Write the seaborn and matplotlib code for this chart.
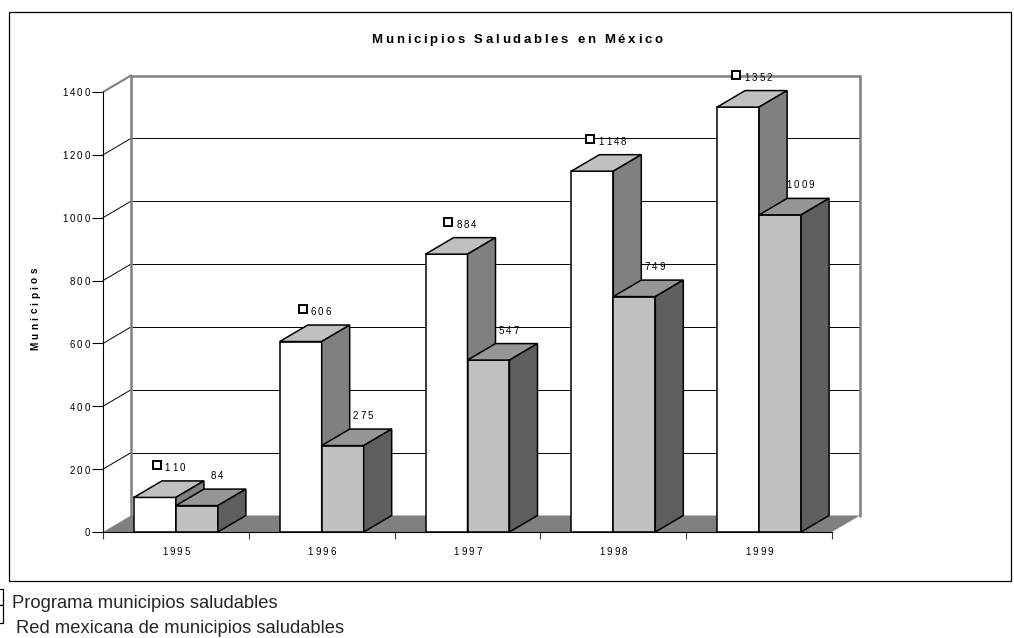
import numpy as np
import pandas as pd
import matplotlib
matplotlib.use("Agg")
import matplotlib.pyplot as plt
import seaborn as sns
from matplotlib.patches import Polygon, Rectangle
from matplotlib.font_manager import FontProperties, findfont
from matplotlib.ft2font import FT2Font
from matplotlib.transforms import offset_copy

# ---- data -------------------------------------------------------------
years = ["1995", "1996", "1997", "1998", "1999"]
programa = [110, 606, 884, 1148, 1352]
red = [84, 275, 547, 749, 1009]
series_names = ["Programa municipios saludables",
                "Red mexicana de municipios saludables"]
y_ticks = [0, 200, 400, 600, 800, 1000, 1200, 1400]
title = "Municipios Saludables en México"
y_label = "Municipios"

# ---- figure -----------------------------------------------------------
W, H, DPI = 1014, 638, 100
sns.set_style("white")
plt.rcParams["font.family"] = ["Liberation Sans", "DejaVu Sans"]

fig = plt.figure(figsize=(W / DPI, H / DPI), dpi=DPI)
fig.patch.set_facecolor("white")


def fx(px):
    return px / W


def fy(py):
    return 1 - py / H


PX = 0.72  # points per pixel at 100 dpi

ax = fig.add_axes([fx(103), fy(532), (832 - 103) / W, (532 - 92) / H])
ax.set_facecolor("none")

df = pd.DataFrame({
    "Año": years * 2,
    "Municipios": programa + red,
    "Serie": [series_names[0]] * len(years) + [series_names[1]] * len(years),
})
sns.barplot(data=df, x="Año", y="Municipios", hue="Serie",
            palette=["#ffffff", "#c0c0c0"], width=0.576, saturation=1,
            edgecolor="black", linewidth=1.1, errorbar=None,
            legend=False, ax=ax)

ax.set_xlim(-0.5, len(years) - 0.5)
ax.set_ylim(0, y_ticks[-1])

# depth of the 3-D box, in data units
DX = 28 / ((832 - 103) / len(years))
DY = 16.5 / ((532 - 92) / y_ticks[-1])
x_lo, x_hi = -0.5, len(years) - 0.5
top = y_ticks[-1]

# floor
ax.add_patch(Polygon([(x_lo, 0), (x_hi, 0), (x_hi + DX, DY), (x_lo + DX, DY)],
                     closed=True, fc="#808080", ec="none", zorder=1,
                     clip_on=False))
# back-wall and side-wall gridlines
for v in y_ticks[1:-1]:
    ax.plot([x_lo + DX, x_hi + DX], [v + DY, v + DY], color="black",
            lw=0.7, zorder=1.5, clip_on=False)
    ax.plot([x_lo, x_lo + DX], [v, v + DY], color="black", lw=0.7,
            zorder=1.5, clip_on=False)
# back-wall border
ax.plot([x_lo + DX, x_lo + DX, x_hi + DX, x_hi + DX],
        [DY, top + DY, top + DY, DY], color="#808080", lw=1.8,
        zorder=1.6, clip_on=False, solid_joinstyle="miter")
ax.plot([x_lo, x_lo + DX], [top, top + DY], color="#808080", lw=1.5,
        zorder=1.6, clip_on=False)

# 3-D faces of the bars
face_colors = [("#c0c0c0", "#808080"), ("#969696", "#5f5f5f")]
for s, cont in enumerate(ax.containers):
    for p in cont.patches:
        p.set_zorder(3 + s)
        x0, w, h = p.get_x(), p.get_width(), p.get_height()
        ax.add_patch(Polygon([(x0, h), (x0 + w, h), (x0 + w + DX, h + DY),
                              (x0 + DX, h + DY)], closed=True,
                             fc=face_colors[s][0], ec="black", lw=1.1,
                             zorder=3 + s, clip_on=False,
                             joinstyle="miter"))
        ax.add_patch(Polygon([(x0 + w, 0), (x0 + w + DX, DY),
                              (x0 + w + DX, h + DY), (x0 + w, h)],
                             closed=True, fc=face_colors[s][1], ec="black",
                             lw=1.1, zorder=3 + s, clip_on=False,
                             joinstyle="miter"))

# axes frame and ticks
sns.despine(ax=ax, top=True, right=True)
for side in ("left", "bottom"):
    ax.spines[side].set_color("black")
    ax.spines[side].set_linewidth(0.8)
    ax.spines[side].set_zorder(2.5)
ax.set_yticks(y_ticks)
ax.set_yticklabels([])
ax.tick_params(axis="y", length=11 * PX, width=0.8, direction="out",
               color="black", left=True)
ax.set_xticks(range(len(years)))
ax.set_xticklabels([])
ax.tick_params(axis="x", which="major", length=0)
ax.set_xticks(np.arange(-0.5, len(years)), minor=True)
ax.tick_params(axis="x", which="minor", length=7 * PX, width=0.8,
               direction="out", color="#404040", bottom=True)
ax.set_xlabel("")
ax.set_ylabel("")
ax.grid(False)


# ---- letter-spaced text -----------------------------------------------
def advances(s, size, weight):
    fp = FontProperties(family="Liberation Sans", weight=weight, size=size)
    font = FT2Font(findfont(fp))
    font.set_size(size, 72)
    return [font.load_char(ord(c)).linearHoriAdvance / 65536 for c in s]


def text_width(s, size, track, weight="normal"):
    adv = advances(s, size, weight)
    return sum(adv) + track * (len(s) - 1)


def tracked_text(x, y, s, size, track, transform, weight="normal",
                 ha="center", dx=0.0, dy=0.0, rotation=0):
    adv = advances(s, size, weight)
    total = sum(adv) + track * (len(s) - 1)
    pos = {"left": 0.0, "center": -total / 2, "right": -total}[ha]
    for c, a in zip(s, adv):
        if rotation == 0:
            t = offset_copy(transform, fig=fig, x=dx + pos, y=dy,
                            units="points")
        else:
            t = offset_copy(transform, fig=fig, x=dx, y=dy + pos,
                            units="points")
        fig.text(x, y, c, transform=t, fontsize=size, fontweight=weight,
                 family="Liberation Sans", ha="left", va="baseline",
                 rotation=rotation, rotation_mode="anchor", color="black")
        pos += a + track


TICK_FS, TICK_TR = 7, 1.5

# y tick labels
for v in y_ticks:
    tracked_text(x_lo, v, str(v), TICK_FS, TICK_TR, ax.transData,
                 ha="right", dx=-13 * PX, dy=-4.5 * PX)
# x tick labels
for i, yr in enumerate(years):
    tracked_text(i, 0, yr, TICK_FS, TICK_TR, ax.transData, ha="center",
                 dy=-23 * PX)

# value labels, each preceded by the series key
KEY, GAP = 8 * PX, 4 * PX
for s, (cont, vals) in enumerate(zip(ax.containers, [programa, red])):
    for p, v in zip(cont.patches, vals):
        xc = p.get_x() + p.get_width() / 2 + DX / 2
        yb = v + DY
        lab = str(v)
        tw = text_width(lab, TICK_FS, TICK_TR)
        left = -(KEY + GAP + tw) / 2
        if s == 0:
            kt = offset_copy(ax.transData, fig=fig, x=left + KEY / 2,
                             y=16 * PX, units="points")
            ax.plot([xc], [yb], marker="s", ms=5.4, mfc="white",
                    mec="black", mew=1.4, transform=kt, clip_on=False,
                    zorder=6)
        tracked_text(xc, yb, lab, TICK_FS, TICK_TR, ax.transData,
                     ha="left", dx=left + KEY + GAP, dy=10 * PX)

# title and axis label
tracked_text(fx(517), fy(43), title, 9.5, 1.95, fig.transFigure,
             weight="bold", ha="center")
tracked_text(fx(38), fy(309), y_label, 7.2, 2.4, fig.transFigure,
             weight="bold", ha="center", rotation=90)

# chart frame
fig.add_artist(Rectangle((fx(9), fy(581)), fx(1011 - 9), (581 - 12) / H,
                         transform=fig.transFigure, fill=False,
                         ec="black", lw=0.9))

# legend below the chart
fig.add_artist(Rectangle((fx(-10), fy(605)), fx(13), (605 - 589) / H,
                         transform=fig.transFigure, fc="white", ec="black",
                         lw=0.9))
fig.add_artist(Rectangle((fx(-10), fy(623)), fx(13), (623 - 605) / H,
                         transform=fig.transFigure, fc="white", ec="black",
                         lw=0.9))
fig.text(fx(12), fy(608), series_names[0], fontsize=13.2, va="baseline",
         ha="left", family="Liberation Sans")
fig.text(fx(16), fy(633), series_names[1], fontsize=13.2, va="baseline",
         ha="left", family="Liberation Sans")

fig.savefig("out.png", dpi=DPI)
